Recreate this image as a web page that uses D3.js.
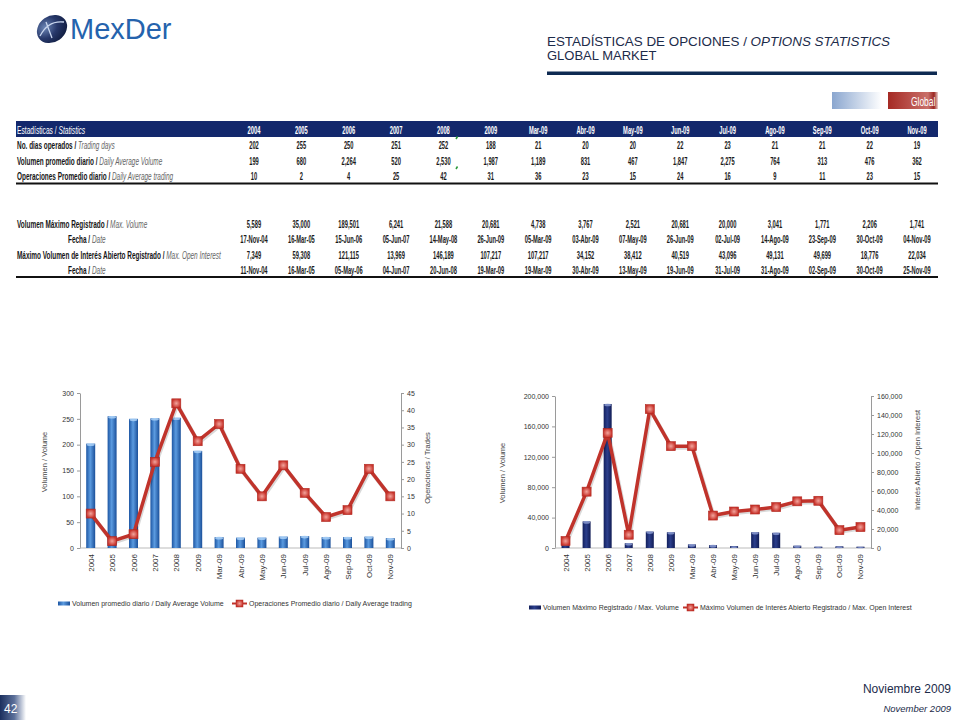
<!DOCTYPE html>
<html><head><meta charset="utf-8">
<script src="https://cdn.jsdelivr.net/npm/d3@7"></script>
<style>body{margin:0;background:#fff}svg{display:block}</style>
</head><body>
<svg id="c" width="960" height="720"></svg>
<script>
// ---------------- DATA ----------------
const categories = ['2004','2005','2006','2007','2008','2009','Mar-09','Abr-09','May-09','Jun-09','Jul-09','Ago-09','Sep-09','Oct-09','Nov-09'];
const tradingDays = [202,255,250,251,252,188,21,20,20,22,23,21,21,22,19];
const dailyAvgVolume = [199,680,2264,520,2530,1987,1189,831,467,1847,2275,764,313,476,362];
const dailyAvgTrading = [10,2,4,25,42,31,36,23,15,24,16,9,11,23,15];
const maxVolume = [5589,35000,189501,6241,21588,20681,4738,3767,2521,20681,20000,3041,1771,2206,1741];
const maxVolumeDate = ['17-Nov-04','16-Mar-05','15-Jun-06','05-Jun-07','14-May-08','26-Jun-09','05-Mar-09','03-Abr-09','07-May-09','26-Jun-09','02-Jul-09','14-Ago-09','23-Sep-09','30-Oct-09','04-Nov-09'];
const maxOpenInterest = [7349,59308,121115,13969,146189,107217,107217,34152,38412,40519,43096,49131,49699,18776,22034];
const maxOpenInterestDate = ['11-Nov-04','16-Mar-05','05-May-06','04-Jun-07','20-Jun-08','19-Mar-09','19-Mar-09','30-Abr-09','13-May-09','19-Jun-09','31-Jul-09','31-Ago-09','02-Sep-09','30-Oct-09','25-Nov-09'];
const leftTicks = [0,50,100,150,200,250,300];
const leftTicks2 = [0,5,10,15,20,25,30,35,40,45];
const rightTicks = [0,40000,80000,120000,160000,200000];
const rightTicks2 = [0,20000,40000,60000,80000,100000,120000,140000,160000];

// ---------------- SETUP ----------------
const svg = d3.select('#c');
const defs = svg.append('defs');
const F = "'Liberation Sans', Arial, sans-serif";
const FN = "'Liberation Sans Narrow','Liberation Sans', Arial, sans-serif";
function lg(id, dir, stops){
  const g = defs.append('linearGradient').attr('id', id);
  if(dir==='h') g.attr('x1',0).attr('y1',0).attr('x2',1).attr('y2',0);
  else g.attr('x1',0).attr('y1',0).attr('x2',0).attr('y2',1);
  stops.forEach(s=>g.append('stop').attr('offset',s[0]).attr('stop-color',s[1]));
}
lg('blueBar','h',[[0,'#1d56a3'],[0.45,'#5b9be0'],[1,'#1a4f99']]);
lg('navyBar','h',[[0,'#121f5c'],[0.45,'#2c3f8c'],[1,'#111c55']]);
lg('tabBlue','h',[[0,'#8aa6cf'],[1,'#ffffff']]);
lg('tabRed','h',[[0,'#a52a24'],[0.8,'#c9706a'],[0.92,'#9a2620'],[1,'#e8d0ce']]);
lg('pageBox','h',[[0,'#1b2f5e'],[0.55,'#5b6f99'],[1,'#ffffff']]);
const rg = defs.append('radialGradient').attr('id','mk');
rg.append('stop').attr('offset',0).attr('stop-color','#f2a49c');
rg.append('stop').attr('offset',1).attr('stop-color','#c8332b');
const lgLogo = defs.append('radialGradient').attr('id','logoG').attr('cx',0.35).attr('cy',0.3).attr('r',0.8);
lgLogo.append('stop').attr('offset',0).attr('stop-color','#6c86b6');
lgLogo.append('stop').attr('offset',0.5).attr('stop-color','#27386a');
lgLogo.append('stop').attr('offset',1).attr('stop-color','#0e1a3c');

// horizontally condensed text placed with a transform
function ctext(parent, x, y, f){
  return parent.append('text').attr('transform',`translate(${x},${y}) scale(${f},1)`);
}

// ---------------- HEADER ----------------
const logo = svg.append('g');
logo.append('ellipse').attr('cx',52).attr('cy',29).attr('rx',16).attr('ry',13)
  .attr('transform','rotate(-35,52,29)').attr('fill','url(#logoG)');
logo.append('path').attr('d','M40 36 Q48 20 64 22 M46 22 L52 38')
  .attr('stroke','#c9d6ee').attr('stroke-width',1.3).attr('fill','none');
logo.append('text').attr('x',70).attr('y',39).attr('font-family',F).attr('font-size',29)
  .attr('fill','#2563ad').text('MexDer');

const t1 = svg.append('text').attr('x',547).attr('y',46).attr('font-family',F).attr('font-size',13)
  .attr('fill','#1c2b4a').attr('textLength',343).attr('lengthAdjust','spacingAndGlyphs')
  .text('ESTADÍSTICAS DE OPCIONES / ');
t1.append('tspan').attr('font-style','italic').text('OPTIONS STATISTICS');
svg.append('text').attr('x',547).attr('y',60).attr('font-family',F).attr('font-size',13)
  .attr('fill','#1c2b4a').text('GLOBAL MARKET');
svg.append('rect').attr('x',547).attr('y',71.5).attr('width',390).attr('height',3.5).attr('fill','#0e2a52');

svg.append('rect').attr('x',832).attr('y',92).attr('width',50).attr('height',17).attr('fill','url(#tabBlue)');
svg.append('rect').attr('x',888).attr('y',92).attr('width',50).attr('height',17).attr('fill','url(#tabRed)');
ctext(svg, 911, 106, 0.7).attr('font-family',FN).attr('font-size',12).attr('fill','#fff').text('Global');

// ---------------- TABLE ----------------
const tx = d3.scalePoint().domain(categories).range([254,917]);
const SQL = 0.56, SQV = 0.5;
svg.append('rect').attr('x',16).attr('y',121).attr('width',922).attr('height',16).attr('fill','#13286c');
const hl = ctext(svg, 17, 134, 0.58).attr('font-family',FN).attr('font-size',11.5).attr('fill','#fff')
  .text('Estadísticas / ');
hl.append('tspan').attr('font-style','italic').text('Statistics');
const hg = svg.append('g');
categories.forEach(c=>{
  ctext(hg, tx(c), 134, SQV).attr('text-anchor','middle').attr('font-family',FN)
    .attr('font-size',11.5).attr('font-weight','bold').attr('fill','#fff').text(c);
});

const fmt = d3.format(',');
const tableRows = [
  {es:'No. dias operados', en:'Trading days', vals:tradingDays.map(fmt), y:149, x:17},
  {es:'Volumen promedio diario', en:'Daily Average Volume', vals:dailyAvgVolume.map(fmt), y:165, x:17},
  {es:'Operaciones Promedio diario', en:'Daily Average trading', vals:dailyAvgTrading.map(fmt), y:180, x:17},
  {es:'Volumen Máximo Registrado', en:'Max. Volume', vals:maxVolume.map(fmt), y:228, x:17},
  {es:'Fecha', en:'Date', vals:maxVolumeDate, y:243, x:68},
  {es:'Máximo Volumen de Interés Abierto Registrado', en:'Max. Open Interest', vals:maxOpenInterest.map(fmt), y:259, x:17},
  {es:'Fecha', en:'Date', vals:maxOpenInterestDate, y:274, x:68}
];
tableRows.forEach(r=>{
  const t = ctext(svg, r.x, r.y, SQL).attr('font-family',FN).attr('font-size',11.5)
    .attr('font-weight','bold').attr('fill','#151515').text(r.es+' / ');
  t.append('tspan').attr('font-style','italic').attr('font-weight','normal').attr('fill','#666').text(r.en);
  const vg = svg.append('g');
  r.vals.forEach((d,i)=>{
    ctext(vg, tx(categories[i]), r.y, SQV).attr('text-anchor','middle')
      .attr('font-family',FN).attr('font-size',11.5).attr('font-weight','bold').attr('fill','#1a1a1a').text(d);
  });
});
svg.append('rect').attr('x',16).attr('y',182.5).attr('width',922).attr('height',2).attr('fill','#111');
svg.append('rect').attr('x',16).attr('y',276).attr('width',922).attr('height',2).attr('fill','#111');
[139,169].forEach(y=>svg.append('path').attr('d',`M456 ${y} l1.5 -2.5`).attr('stroke','#2a9a3a').attr('stroke-width',1.5));

// ---------------- CHART HELPER ----------------
function chart(o){
  const g = svg.append('g');
  const x = d3.scaleBand().domain(categories).range([o.x0,o.x1]).paddingInner(o.pad).paddingOuter(o.pad/2);
  const y = d3.scaleLinear().domain([0,o.yMax]).range([548,o.yTop]);
  const y2 = d3.scaleLinear().domain([0,o.y2Max]).range([548,o.yTop]);
  const ax = g.append('g').attr('transform',`translate(${o.x0},0)`)
    .call(d3.axisLeft(y).tickValues(o.ticks).tickFormat(o.fmt).tickSize(3).tickSizeOuter(0).tickPadding(3));
  const ax2 = g.append('g').attr('transform',`translate(${o.x1},0)`)
    .call(d3.axisRight(y2).tickValues(o.ticks2).tickFormat(o.fmt2).tickSize(3).tickSizeOuter(0).tickPadding(3));
  [ax,ax2].forEach(a=>{
    a.selectAll('path,line').attr('stroke','#9a9a9a');
    a.selectAll('text').attr('font-family',F).attr('font-size',7).attr('fill','#333');
  });
  g.append('line').attr('x1',o.x0).attr('x2',o.x1).attr('y1',548).attr('y2',548).attr('stroke','#bbb');
  // bars
  g.append('g').selectAll('rect').data(o.bars).join('rect')
    .attr('x',(d,i)=>x(categories[i])).attr('width',x.bandwidth())
    .attr('y',d=>y(d)).attr('height',d=>548-y(d)).attr('fill',o.barFill);
  g.append('g').selectAll('ellipse').data(o.bars).join('ellipse')
    .attr('cx',(d,i)=>x(categories[i])+x.bandwidth()/2).attr('rx',x.bandwidth()/2-0.5)
    .attr('cy',d=>y(d)+1).attr('ry',d=>Math.min(1.3,(548-y(d))/2)).attr('fill',o.capFill).attr('opacity',0.85);
  // line
  const cx = (d,i)=>x(categories[i])+x.bandwidth()/2;
  const line = d3.line().x(cx).y(d=>y2(d));
  g.append('path').datum(o.line).attr('d',line).attr('fill','none').attr('stroke','#000')
    .attr('stroke-opacity',0.15).attr('stroke-width',4).attr('transform','translate(1,1.5)');
  g.append('path').datum(o.line).attr('d',line).attr('fill','none').attr('stroke','#c0332b').attr('stroke-width',3.5)
    .attr('stroke-linejoin','round');
  g.append('g').selectAll('rect').data(o.line).join('rect')
    .attr('x',(d,i)=>cx(d,i)-4.5).attr('y',d=>y2(d)-4.5).attr('width',9).attr('height',9)
    .attr('fill','url(#mk)').attr('stroke','#b02820').attr('stroke-width',0.6);
  // category labels
  g.append('g').selectAll('text').data(categories).join('text')
    .attr('transform',d=>`translate(${x(d)+x.bandwidth()/2+3},554) rotate(-90)`)
    .attr('text-anchor','end').attr('font-family',F).attr('font-size',8).attr('fill','#333').text(d=>d);
  // axis titles
  g.append('text').attr('transform',`translate(${o.t1x},${o.t1y}) rotate(-90)`).attr('text-anchor','middle')
    .attr('font-family',F).attr('font-size',7.5).attr('fill','#444').text(o.t1);
  g.append('text').attr('transform',`translate(${o.t2x},${o.t2y}) rotate(-90)`).attr('text-anchor','middle')
    .attr('font-family',F).attr('font-size',7.5).attr('fill','#444').text(o.t2);
  // legend
  const L = g.append('g');
  L.append('rect').attr('x',o.lx).attr('y',o.ly-4.5).attr('width',12).attr('height',4).attr('fill',o.legFill);
  L.append('text').attr('x',o.lx+14).attr('y',o.ly).attr('font-family',F).attr('font-size',7).attr('fill','#333').text(o.leg1);
  L.append('line').attr('x1',o.lx2).attr('x2',o.lx2+15).attr('y1',o.ly-2.5).attr('y2',o.ly-2.5).attr('stroke','#c0332b').attr('stroke-width',2);
  L.append('rect').attr('x',o.lx2+4).attr('y',o.ly-6).attr('width',7).attr('height',7).attr('fill','url(#mk)').attr('stroke','#b02820').attr('stroke-width',0.5);
  L.append('text').attr('x',o.lx2+17).attr('y',o.ly).attr('font-family',F).attr('font-size',7).attr('fill','#333').text(o.leg2);
}

chart({x0:80,x1:401,pad:0.58,yMax:300,y2Max:45,yTop:393,ticks:leftTicks,ticks2:leftTicks2,
  fmt:d3.format('d'),fmt2:d3.format('d'),bars:tradingDays,line:dailyAvgTrading,
  barFill:'url(#blueBar)',capFill:'#a9d0f7',legFill:'url(#blueBar)',
  t1:'Volumen / Volume',t1x:47,t1y:462,t2:'Operaciones / Trades',t2x:430,t2y:468,
  lx:58,lx2:232,ly:606,
  leg1:'Volumen promedio diario / Daily Average Volume',leg2:'Operaciones Promedio diario / Daily Average trading'});

chart({x0:555,x1:871,pad:0.62,yMax:200000,y2Max:160000,yTop:396,ticks:rightTicks,ticks2:rightTicks2,
  fmt:d3.format(','),fmt2:d3.format(','),bars:maxVolume,line:maxOpenInterest,
  barFill:'url(#navyBar)',capFill:'#8a9ad0',legFill:'url(#navyBar)',
  t1:'Volumen / Volume',t1x:505,t1y:473,t2:'Interés Abierto / Open Interest',t2x:920,t2y:460,
  lx:529,lx2:683,ly:610,
  leg1:'Volumen Máximo Registrado / Max.  Volume',leg2:'Máximo Volumen de Interés  Abierto Registrado / Max.  Open Interest'});

// ---------------- FOOTER ----------------
svg.append('text').attr('x',951).attr('y',693).attr('text-anchor','end').attr('font-family',F)
  .attr('font-size',12).attr('fill','#1c2b4a').text('Noviembre 2009');
svg.append('text').attr('x',951).attr('y',712).attr('text-anchor','end').attr('font-family',F)
  .attr('font-size',9.5).attr('font-style','italic').attr('fill','#1c2b4a').text('November  2009');
svg.append('rect').attr('x',0).attr('y',695).attr('width',26).attr('height',25).attr('fill','url(#pageBox)');
svg.append('text').attr('x',4).attr('y',713).attr('font-family',F).attr('font-size',12).attr('fill','#fff').text('42');
</script>
</body></html>
